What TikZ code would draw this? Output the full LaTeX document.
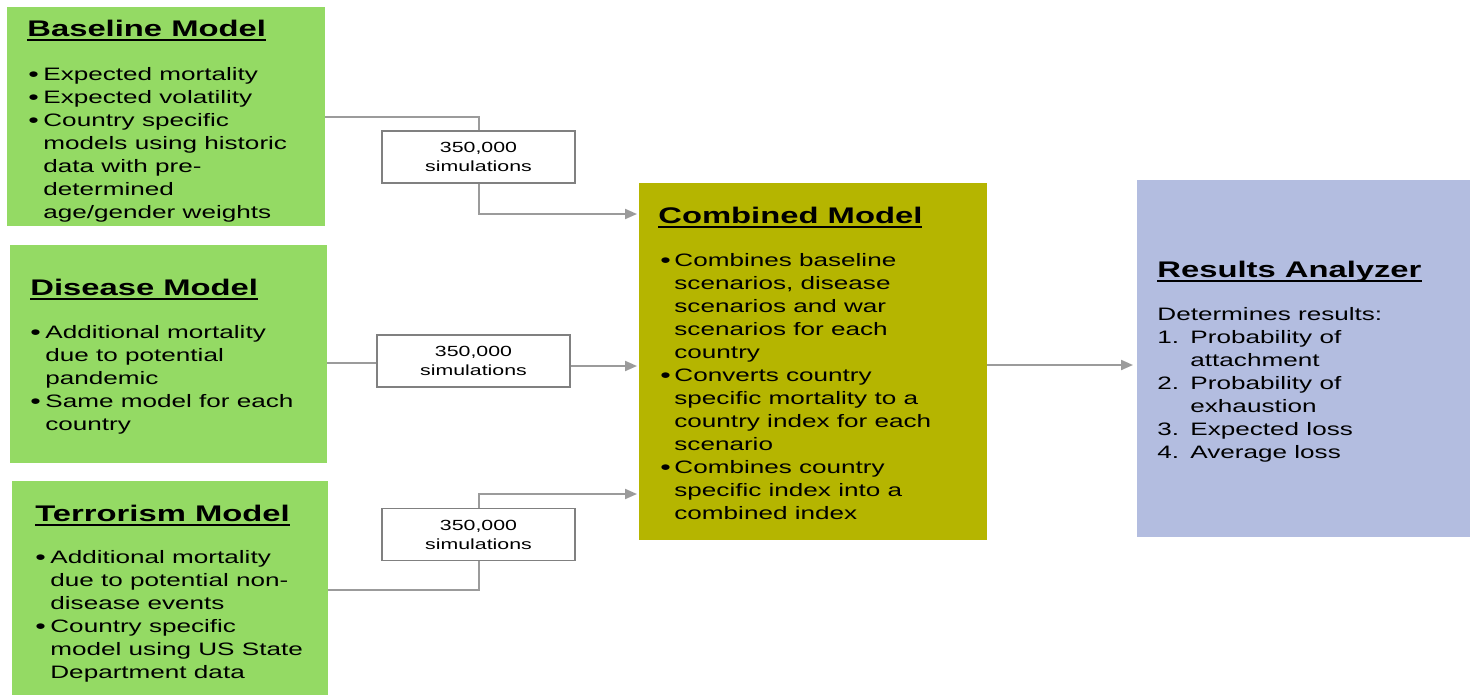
\documentclass[tikz,border=0pt]{standalone}
\usepackage{fontspec}
\setmainfont[FakeStretch=1.45]{Liberation Sans}
\usetikzlibrary{arrows.meta}
\definecolor{boxgreen}{RGB}{148,218,100}
\definecolor{boxolive}{RGB}{181,181,0}
\definecolor{boxblue}{RGB}{179,189,224}
\definecolor{linegray}{RGB}{155,155,155}
\definecolor{simgray}{RGB}{128,128,128}
\newcommand{\ttlu}[1]{\setbox0\hbox{#1}\rlap{\rule[-2.4pt]{\wd0}{1.1pt}}\box0}
\newcommand{\bitem}{\makebox[7.5pt][l]{\raisebox{-0.6pt}{\scalebox{1.15}{\textbullet}}}}
\newcommand{\bcont}{\hspace*{7.5pt}}
\newcommand{\citem}{\makebox[7pt][l]{\raisebox{-0.6pt}{\scalebox{1.15}{\textbullet}}}}
\newcommand{\ccont}{\hspace*{7pt}}
\newcommand{\nitem}[1]{\makebox[16.5pt][l]{#1}}
\newcommand{\ncont}{\hspace*{16.5pt}}
\begin{document}
\begin{tikzpicture}[x=0.5pt,y=-0.5pt,
  panel/.style={draw=none,inner sep=0,outer sep=0},
  simbox/.style={draw=simgray,line width=0.75pt,fill=white,inner sep=0,minimum width=96.5pt,minimum height=26pt,align=center,font=\fontsize{7.35pt}{9.5pt}\selectfont},
  ttl/.style={inner sep=0,anchor=base west,font=\fontsize{11.3pt}{13pt}\selectfont\bfseries},
  body/.style={inner sep=0,anchor=north west,align=left,font=\fontsize{9pt}{11.5pt}\selectfont},
  conn/.style={draw=linegray,line width=1pt},
  arr/.style={conn,-{Triangle[length=6pt,width=5pt]}}
]
\useasboundingbox (0,0) rectangle (1470,696);
\fill[white] (0,0) rectangle (1470,696);

% panels
\node[panel,fill=boxgreen,minimum width=159pt,minimum height=109.5pt] (base) at (166,116.5) {};
\node[panel,fill=boxgreen,minimum width=158.5pt,minimum height=109pt] (dis) at (168.5,354) {};
\node[panel,fill=boxgreen,minimum width=158pt,minimum height=107pt] (ter) at (170,588) {};
\node[panel,fill=boxolive,minimum width=174pt,minimum height=178.5pt] (comb) at (813,361.5) {};
\node[panel,fill=boxblue,minimum width=166.5pt,minimum height=178.5pt] (res) at (1303.5,358.5) {};

% simulation boxes
\node[simbox] (sim1) at (478.5,157) {350,000\\simulations};
\node[simbox] (sim2) at (473.5,361) {350,000\\simulations};
\node[simbox] (sim3) at (478.5,534.5) {350,000\\simulations};

% texts
\node[ttl] (baseT) at (27,36) {\ttlu{Baseline Model}};
\node[body] (baseB) at (28,67) {\bitem Expected mortality\\
\bitem Expected volatility\\
\bitem Country specific\\
\bcont models using historic\\
\bcont data with pre-\\
\bcont determined\\
\bcont age/gender weights};

\node[ttl] (disT) at (30,295) {\ttlu{Disease Model}};
\node[body] (disB) at (30,325) {\bitem Additional mortality\\
\bcont due to potential\\
\bcont pandemic\\
\bitem Same model for each\\
\bcont country};

\node[ttl] (terT) at (35,521) {\ttlu{Terrorism Model}};
\node[body] (terB) at (35,550) {\bitem Additional mortality\\
\bcont due to potential non-\\
\bcont disease events\\
\bitem Country specific\\
\bcont model using US State\\
\bcont Department data};

\node[ttl] (combT) at (658,223) {\ttlu{Combined Model}};
\node[body] (combB) at (660,253) {\citem Combines baseline\\
\ccont scenarios, disease\\
\ccont scenarios and war\\
\ccont scenarios for each\\
\ccont country\\
\citem Converts country\\
\ccont specific mortality to a\\
\ccont country index for each\\
\ccont scenario\\
\citem Combines country\\
\ccont specific index into a\\
\ccont combined index};

\node[ttl] (resT) at (1157,277) {\ttlu{Results Analyzer}};
\node[body] (resB) at (1157,307) {Determines results:\\
\nitem{1.}Probability of\\
\ncont attachment\\
\nitem{2.}Probability of\\
\ncont exhaustion\\
\nitem{3.}Expected loss\\
\nitem{4.}Average loss};

% connectors
\coordinate (in1) at ([xshift=-1pt]comb.west |- 0,214);
\coordinate (in2) at ([xshift=-1pt]comb.west |- 0,366);
\coordinate (in3) at ([xshift=-1pt]comb.west |- 0,494);
\coordinate (out2) at (dis.east |- 0,363);
\coordinate (out3) at (ter.east |- 0,590);
\coordinate (outc) at (comb.east |- 0,365);
\coordinate (inr) at ([xshift=-2pt]res.west |- 0,365);
\draw[conn] (base.east) -| (sim1.north);
\draw[arr] (sim1.south) |- (in1);
\draw[conn] (out2) -- (sim2.west |- out2);
\draw[arr] (sim2.east |- in2) -- (in2);
\draw[conn] (out3) -| (sim3.south);
\draw[arr] (sim3.north) |- (in3);
\draw[arr] (outc) -- (inr);
\end{tikzpicture}
\end{document}
